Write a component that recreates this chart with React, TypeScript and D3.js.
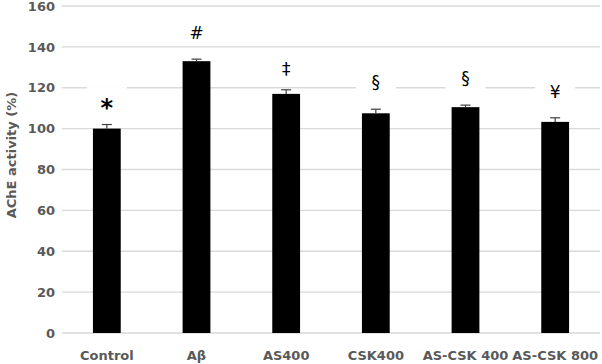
import * as React from 'react'
import * as d3 from 'd3'

const groups = ['Control', 'Aβ', 'AS400', 'CSK400', 'AS-CSK 400', 'AS-CSK 800']
const means = [100, 133, 117, 107.5, 110.5, 103.3]
const errors = [2, 1, 2, 2, 1, 2]
const marks = ['*', '#', '‡', '§', '§', '¥']
const markValues = [113, 147, 129, 123, 125, 118]
const yTicks = [0, 20, 40, 60, 80, 100, 120, 140, 160]

const W = 602
const H = 364
const margin = { top: 6, right: 2, bottom: 31, left: 62 }

export default function App () {
    const innerW = W - margin.left - margin.right
    const innerH = H - margin.top - margin.bottom
    const x = d3.scaleBand().domain(groups).range([0, innerW]).paddingInner(0.69).paddingOuter(0.345)
    const y = d3.scaleLinear().domain([0, 160]).range([innerH, 0])
    const font = "'DejaVu Sans', sans-serif"

    return <svg width={W} height={H} style={{ position: 'absolute', left: 0, top: 0, background: '#fff' }}>
        <g transform={`translate(${margin.left}, ${margin.top})`}>
            {yTicks.map(t => <g key={t}>
                <line x1={0} x2={innerW} y1={y(t)} y2={y(t)} stroke='#d9d9d9' strokeWidth={1.3} />
                <text x={-7} y={y(t)} dy='0.36em' textAnchor='end' fontFamily={font} fontWeight={700}
                    fontSize={13} fill='#595959'>{t}</text>
            </g>)}
            {groups.map((g, i) => {
                const cx = x(g)! + x.bandwidth() / 2
                const big = marks[i] === '*'
                return <g key={g}>
                    <rect x={x(g)} y={y(means[i])} width={x.bandwidth()} height={innerH - y(means[i])} fill='#000' />
                    <line x1={cx} x2={cx} y1={y(means[i])} y2={y(means[i] + errors[i])} stroke='#404040' strokeWidth={1.2} />
                    <line x1={cx - 5} x2={cx + 5} y1={y(means[i] + errors[i])} y2={y(means[i] + errors[i])} stroke='#404040' strokeWidth={1.2} />
                    <rect x={cx - 20} y={y(markValues[i]) - 15} width={40} height={28} fill='#fff' />
                    <text x={cx} y={y(markValues[i]) + (big ? 5 : 0)} dy='0.36em' textAnchor='middle' fontFamily={font}
                        fontSize={big ? 24 : 17} fontWeight={big ? 700 : 400} fill='#000'>{marks[i]}</text>
                    <text x={cx} y={innerH + 22} dy='0.36em' textAnchor='middle' fontFamily={font} fontWeight={700}
                        fontSize={13} fill='#595959'>{g}</text>
                </g>
            })}
        </g>
        <text transform={`translate(11, 155) rotate(-90)`} textAnchor='middle' dy='0.36em'
            fontFamily={font} fontWeight={700} fontSize={13} fill='#595959'>AChE activity (%)</text>
    </svg>
}
